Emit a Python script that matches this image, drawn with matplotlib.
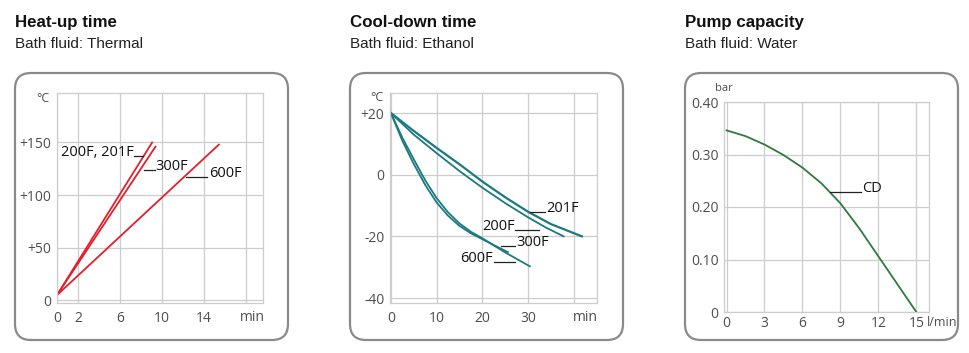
import matplotlib
matplotlib.use("Agg")
import matplotlib.pyplot as plt
from matplotlib.patches import FancyBboxPatch

# heat-up time (bath fluid: thermal), min / degC
heat_t_200_201 = [0, 9.05]
heat_T_200_201 = [5, 150]
heat_t_300 = [0, 9.37]
heat_T_300 = [5, 146]
heat_t_600 = [0, 15.4]
heat_T_600 = [5, 148]

# cool-down time (bath fluid: ethanol), min / degC
cool_t_201 = [0, 5, 10, 15, 20, 25, 30, 35, 41.8]
cool_T_201 = [20, 14.2, 8.7, 3.4, -2.2, -7.3, -12.0, -16.0, -20]
cool_t_200 = [0, 5, 10, 15, 20, 25, 30, 34, 37.8]
cool_T_200 = [20, 13.0, 7.0, 1.2, -4.2, -9.2, -13.8, -17.2, -20]
cool_t_300 = [0, 2.5, 5, 7.5, 10, 12.5, 15, 17.5, 20, 22.5, 25.6]
cool_T_300 = [20, 11.0, 3.5, -3.3, -9.0, -13.3, -16.6, -19.0, -20.9, -22.8, -25.1]
cool_t_600 = [0, 2.5, 5, 7.5, 10, 12.5, 15, 17.5, 20, 25, 30.4]
cool_T_600 = [20, 12.0, 5.0, -1.8, -7.6, -12.2, -15.8, -18.5, -20.6, -25.2, -29.7]

# pump capacity (bath fluid: water), l/min / bar
pump_q = [0, 1.5, 3, 4.5, 6, 7.5, 9, 10.5, 12, 13.5, 15]
pump_p = [0.346, 0.335, 0.319, 0.299, 0.275, 0.245, 0.207, 0.159, 0.106, 0.053, 0.0]

titles = ["Heat-up time", "Cool-down time", "Pump capacity"]
subtitles = ["Bath fluid: Thermal", "Bath fluid: Ethanol", "Bath fluid: Water"]

RED = "#e2202c"
TEAL = "#1b7a7e"
GREEN = "#2e7b3c"
GRID = "#cdcdcd"
TICK = "#4d4d4d"
NARROW = ["Liberation Sans Narrow", "Liberation Sans", "DejaVu Sans"]
SANS = ["Open Sans", "DejaVu Sans"]

W, H = 970, 353
fig = plt.figure(figsize=(W / 100, H / 100), dpi=100)

# background layer in pixel coordinates: boxes and titles
bg = fig.add_axes([0, 0, 1, 1], zorder=-1)
bg.set_xlim(0, W)
bg.set_ylim(H, 0)
bg.axis("off")
for i, x0 in enumerate([15, 350, 685]):
    bg.add_patch(FancyBboxPatch((x0, 73), 273, 267, boxstyle="round,pad=0,rounding_size=16",
                                facecolor="white", edgecolor="#8a8a8a", linewidth=1.6))
    bg.text(x0, 27, titles[i], fontsize=12.2, fontweight="bold", family=NARROW, color="#111111", va="baseline")
    bg.text(x0, 48, subtitles[i], fontsize=11, family=NARROW, color="#222222", va="baseline")


def make_axes(left, right, top, bottom):
    ax = fig.add_axes([left / W, (H - bottom) / H, (right - left) / W, (bottom - top) / H])
    for s in ax.spines.values():
        s.set_color(GRID)
        s.set_linewidth(0.9)
    ax.grid(True, color=GRID, linewidth=0.9)
    ax.set_axisbelow(True)
    ax.tick_params(length=0, labelsize=10, labelcolor=TICK, pad=4)
    return ax


def label(ax, text, x0, x1, y, tx, ha="left"):
    ax.plot([x0, x1], [y, y], color="#222222", linewidth=0.9)
    ax.text(tx, y, text, ha=ha, va="baseline", fontsize=10.5, family=SANS, color="#111111")


def style_ticks(ax):
    for lab in ax.get_xticklabels() + ax.get_yticklabels():
        lab.set_family(SANS)


# --- heat-up ---
ax1 = make_axes(57, 263, 93, 303)
ax1.plot(heat_t_200_201, heat_T_200_201, color=RED, linewidth=1.3)
ax1.plot(heat_t_300, heat_T_300, color=RED, linewidth=1.3)
ax1.plot(heat_t_600, heat_T_600, color=RED, linewidth=1.3)
ax1.set_xlim(0, 19.6)
ax1.set_ylim(-2.5, 197)
ax1.set_xticks([0, 2, 6, 10, 14, 18], ["0", "2", "6", "10", "14", ""])
ax1.set_yticks([0, 50, 100, 150], ["0", "+50", "+100", "+150"])
ax1.tick_params(axis="x", pad=6)
label(ax1, "200F, 201F", 7.35, 8.15, 137.5, 7.3, ha="right")
label(ax1, "300F", 8.3, 9.3, 123.5, 9.35)
label(ax1, "600F", 12.3, 14.3, 117.5, 14.5)
ax1.text(0.947, -0.067, "min", transform=ax1.transAxes, ha="center", va="center",
         fontsize=10, family=SANS, color=TICK)
ax1.text(-0.035, 0.975, "°C", transform=ax1.transAxes, ha="right", va="center",
         fontsize=9, family=SANS, color=TICK)
style_ticks(ax1)

# --- cool-down ---
ax2 = make_axes(390, 597, 93, 303)
ax2.plot(cool_t_201, cool_T_201, color=TEAL, linewidth=1.6)
ax2.plot(cool_t_200, cool_T_200, color=TEAL, linewidth=1.3)
ax2.plot(cool_t_300, cool_T_300, color=TEAL, linewidth=1.3)
ax2.plot(cool_t_600, cool_T_600, color=TEAL, linewidth=1.3)
ax2.set_xlim(-0.2, 45.1)
ax2.set_ylim(-41.6, 26.5)
ax2.set_xticks([0, 10, 20, 30, 40], ["0", "10", "20", "30", ""])
ax2.set_yticks([20, 0, -20, -40], ["+20", "0", "-20", "-40"])
ax2.tick_params(axis="x", pad=6)
label(ax2, "201F", 30.5, 33.8, -12.1, 34.1)
label(ax2, "200F", 27.2, 32.3, -17.8, 27.2, ha="right")
label(ax2, "300F", 24.1, 27.2, -23.0, 27.5)
label(ax2, "600F", 22.5, 27.2, -28.4, 22.2, ha="right")
ax2.text(0.942, -0.067, "min", transform=ax2.transAxes, ha="center", va="center",
         fontsize=10, family=SANS, color=TICK)
ax2.text(-0.03, 0.98, "°C", transform=ax2.transAxes, ha="right", va="center",
         fontsize=9, family=SANS, color=TICK)
style_ticks(ax2)

# --- pump capacity ---
ax3 = make_axes(724, 929, 102, 312)
ax3.plot(pump_q, pump_p, color=GREEN, linewidth=1.3)
ax3.set_xlim(-0.2, 16)
ax3.set_ylim(0, 0.40)
ax3.set_xticks([0, 3, 6, 9, 12, 15], ["0", "3", "6", "9", "12", "15"])
ax3.set_yticks([0, 0.1, 0.2, 0.3, 0.4], ["0", "0.10", "0.20", "0.30", "0.40"])
ax3.tick_params(axis="x", pad=3)
label(ax3, "CD", 8.2, 10.6, 0.229, 10.7)
ax3.text(1.065, -0.05, "l/min", transform=ax3.transAxes, ha="center", va="center",
         fontsize=9, family=SANS, color=TICK)
ax3.text(0.0, 1.065, "bar", transform=ax3.transAxes, ha="center", va="center",
         fontsize=8, family=SANS, color=TICK)
style_ticks(ax3)

fig.savefig("out.png", dpi=100)
